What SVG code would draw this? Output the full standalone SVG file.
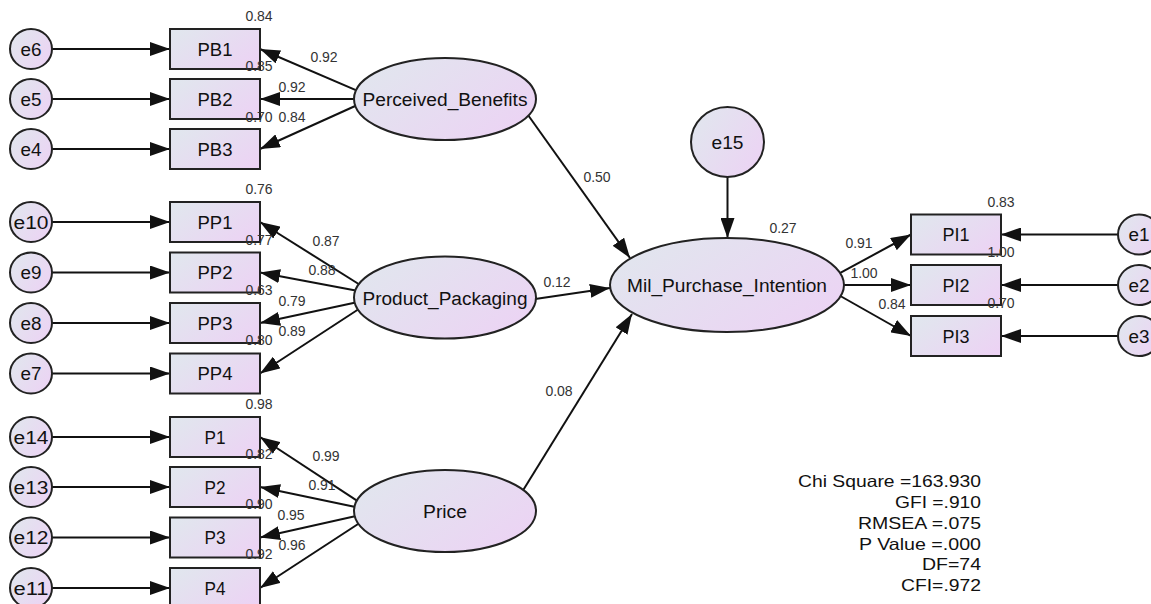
<svg xmlns="http://www.w3.org/2000/svg" width="1151" height="604" viewBox="0 0 1151 604">
<style>
.n{fill:url(#g);stroke:#222;stroke-width:2}
.lbl{font-family:"Liberation Sans",Arial,sans-serif;font-size:18px;fill:#111;text-anchor:middle}
.num{font-family:"Liberation Sans",Arial,sans-serif;font-size:14px;fill:#333;text-anchor:middle}
.st{font-family:"Liberation Sans",Arial,sans-serif;font-size:16.5px;fill:#111;text-anchor:end}
#connectors line{stroke:#111;stroke-width:2;marker-end:url(#a)}
</style>
<defs>
<linearGradient id="g" x1="0" y1="0.2" x2="1" y2="0.8">
<stop offset="0" stop-color="#e1e6ee"/>
<stop offset="1" stop-color="#ecd3f4"/>
</linearGradient>
<marker id="a" markerWidth="20" markerHeight="14" refX="20" refY="7" orient="auto" markerUnits="userSpaceOnUse">
<path d="M0,0 L20,7 L0,14 z" fill="#111"/>
</marker>
</defs>
<rect width="1151" height="604" fill="#fff"/>
<g id="connectors">
<line x1="45" y1="49" x2="170" y2="49"/>
<line x1="45" y1="99" x2="170" y2="99"/>
<line x1="45" y1="149" x2="170" y2="149"/>
<line x1="45" y1="222" x2="170" y2="222"/>
<line x1="45" y1="272.5" x2="170" y2="272.5"/>
<line x1="45" y1="323" x2="170" y2="323"/>
<line x1="45" y1="373.5" x2="170" y2="373.5"/>
<line x1="45" y1="437" x2="170" y2="437"/>
<line x1="45" y1="487" x2="170" y2="487"/>
<line x1="45" y1="537.5" x2="170" y2="537.5"/>
<line x1="45" y1="588" x2="170" y2="588"/>
<line x1="364" y1="93.7" x2="260" y2="49"/>
<line x1="366" y1="99" x2="260" y2="99"/>
<line x1="364" y1="102" x2="260" y2="149"/>
<line x1="365" y1="288" x2="260" y2="222"/>
<line x1="365" y1="292.3" x2="260" y2="272.5"/>
<line x1="365" y1="300.4" x2="260" y2="323"/>
<line x1="365" y1="305" x2="260" y2="373.5"/>
<line x1="363" y1="504.6" x2="260" y2="437"/>
<line x1="365" y1="509" x2="260" y2="487"/>
<line x1="365" y1="514" x2="260" y2="537.5"/>
<line x1="365" y1="519.5" x2="260" y2="588"/>
<line x1="523" y1="108" x2="630" y2="258"/>
<line x1="525" y1="300.4" x2="610" y2="288"/>
<line x1="518" y1="498.5" x2="632" y2="314"/>
<line x1="727.5" y1="170" x2="727.5" y2="238"/>
<line x1="831.5" y1="277.7" x2="911" y2="234.5"/>
<line x1="835" y1="285" x2="911" y2="285"/>
<line x1="831.5" y1="291" x2="911" y2="336"/>
<line x1="1125" y1="234.5" x2="1001" y2="234.5"/>
<line x1="1125" y1="285" x2="1001" y2="285"/>
<line x1="1125" y1="336" x2="1001" y2="336"/>
</g>
<g id="e6"><ellipse class="n" cx="31" cy="49" rx="21" ry="20"/><text class="lbl" x="31" y="55.5" textLength="21" lengthAdjust="spacingAndGlyphs">e6</text></g>
<g id="e5"><ellipse class="n" cx="31" cy="99" rx="21" ry="20"/><text class="lbl" x="31" y="105.5" textLength="21" lengthAdjust="spacingAndGlyphs">e5</text></g>
<g id="e4"><ellipse class="n" cx="31" cy="149" rx="21" ry="20"/><text class="lbl" x="31" y="155.5" textLength="21" lengthAdjust="spacingAndGlyphs">e4</text></g>
<g id="e10"><ellipse class="n" cx="31" cy="222" rx="21" ry="20"/><text class="lbl" x="31" y="228.5" textLength="35" lengthAdjust="spacingAndGlyphs">e10</text></g>
<g id="e9"><ellipse class="n" cx="31" cy="272.5" rx="21" ry="20"/><text class="lbl" x="31" y="279" textLength="21" lengthAdjust="spacingAndGlyphs">e9</text></g>
<g id="e8"><ellipse class="n" cx="31" cy="323" rx="21" ry="20"/><text class="lbl" x="31" y="329.5" textLength="21" lengthAdjust="spacingAndGlyphs">e8</text></g>
<g id="e7"><ellipse class="n" cx="31" cy="373.5" rx="21" ry="20"/><text class="lbl" x="31" y="380" textLength="21" lengthAdjust="spacingAndGlyphs">e7</text></g>
<g id="e14"><ellipse class="n" cx="31" cy="437" rx="21" ry="20"/><text class="lbl" x="31" y="443.5" textLength="35" lengthAdjust="spacingAndGlyphs">e14</text></g>
<g id="e13"><ellipse class="n" cx="31" cy="487" rx="21" ry="20"/><text class="lbl" x="31" y="493.5" textLength="35" lengthAdjust="spacingAndGlyphs">e13</text></g>
<g id="e12"><ellipse class="n" cx="31" cy="537.5" rx="21" ry="20"/><text class="lbl" x="31" y="544" textLength="35" lengthAdjust="spacingAndGlyphs">e12</text></g>
<g id="e11"><ellipse class="n" cx="31" cy="588" rx="21" ry="20"/><text class="lbl" x="31" y="594.5" textLength="35" lengthAdjust="spacingAndGlyphs">e11</text></g>
<g id="PB1"><rect class="n" x="170" y="29" width="90" height="40"/><text class="lbl" x="215" y="55.5" textLength="35" lengthAdjust="spacingAndGlyphs">PB1</text></g>
<g id="PB2"><rect class="n" x="170" y="79" width="90" height="40"/><text class="lbl" x="215" y="105.5" textLength="35" lengthAdjust="spacingAndGlyphs">PB2</text></g>
<g id="PB3"><rect class="n" x="170" y="129" width="90" height="40"/><text class="lbl" x="215" y="155.5" textLength="35" lengthAdjust="spacingAndGlyphs">PB3</text></g>
<g id="PP1"><rect class="n" x="170" y="202" width="90" height="40"/><text class="lbl" x="215" y="228.5" textLength="35" lengthAdjust="spacingAndGlyphs">PP1</text></g>
<g id="PP2"><rect class="n" x="170" y="252.5" width="90" height="40"/><text class="lbl" x="215" y="279" textLength="35" lengthAdjust="spacingAndGlyphs">PP2</text></g>
<g id="PP3"><rect class="n" x="170" y="303" width="90" height="40"/><text class="lbl" x="215" y="329.5" textLength="35" lengthAdjust="spacingAndGlyphs">PP3</text></g>
<g id="PP4"><rect class="n" x="170" y="353.5" width="90" height="40"/><text class="lbl" x="215" y="380" textLength="35" lengthAdjust="spacingAndGlyphs">PP4</text></g>
<g id="P1"><rect class="n" x="170" y="417" width="90" height="40"/><text class="lbl" x="215" y="443.5" textLength="21" lengthAdjust="spacingAndGlyphs">P1</text></g>
<g id="P2"><rect class="n" x="170" y="467" width="90" height="40"/><text class="lbl" x="215" y="493.5" textLength="21" lengthAdjust="spacingAndGlyphs">P2</text></g>
<g id="P3"><rect class="n" x="170" y="517.5" width="90" height="40"/><text class="lbl" x="215" y="544" textLength="21" lengthAdjust="spacingAndGlyphs">P3</text></g>
<g id="P4"><rect class="n" x="170" y="568" width="90" height="40"/><text class="lbl" x="215" y="594.5" textLength="21" lengthAdjust="spacingAndGlyphs">P4</text></g>
<g id="Perceived_Benefits"><ellipse class="n" cx="445" cy="99" rx="91" ry="41"/><text class="lbl" x="445" y="105.5" textLength="165" lengthAdjust="spacingAndGlyphs">Perceived_Benefits</text></g>
<g id="Product_Packaging"><ellipse class="n" cx="445" cy="297.5" rx="91" ry="41"/><text class="lbl" x="445" y="304.5" textLength="165" lengthAdjust="spacingAndGlyphs">Product_Packaging</text></g>
<g id="Price"><ellipse class="n" cx="445" cy="511" rx="91" ry="41"/><text class="lbl" x="445" y="518" textLength="44" lengthAdjust="spacingAndGlyphs">Price</text></g>
<g id="e15"><ellipse class="n" cx="727.5" cy="142" rx="36.5" ry="35"/><text class="lbl" x="727.5" y="148.5" textLength="32" lengthAdjust="spacingAndGlyphs">e15</text></g>
<g id="Mil_Purchase_Intention"><ellipse class="n" cx="727" cy="285" rx="117" ry="47"/><text class="lbl" x="727" y="291.5" textLength="200" lengthAdjust="spacingAndGlyphs">Mil_Purchase_Intention</text></g>
<g id="PI1"><rect class="n" x="911" y="214.5" width="90" height="40"/><text class="lbl" x="956" y="241" textLength="27" lengthAdjust="spacingAndGlyphs">PI1</text></g>
<g id="PI2"><rect class="n" x="911" y="265" width="90" height="40"/><text class="lbl" x="956" y="291.5" textLength="27" lengthAdjust="spacingAndGlyphs">PI2</text></g>
<g id="PI3"><rect class="n" x="911" y="316" width="90" height="40"/><text class="lbl" x="956" y="342.5" textLength="27" lengthAdjust="spacingAndGlyphs">PI3</text></g>
<g id="e1"><ellipse class="n" cx="1139" cy="234.5" rx="21" ry="20"/><text class="lbl" x="1139" y="241" textLength="21" lengthAdjust="spacingAndGlyphs">e1</text></g>
<g id="e2"><ellipse class="n" cx="1139" cy="285" rx="21" ry="20"/><text class="lbl" x="1139" y="291.5" textLength="21" lengthAdjust="spacingAndGlyphs">e2</text></g>
<g id="e3"><ellipse class="n" cx="1139" cy="336" rx="21" ry="20"/><text class="lbl" x="1139" y="342.5" textLength="21" lengthAdjust="spacingAndGlyphs">e3</text></g>
<g id="estimates">
<text class="num" x="259" y="20.7">0.84</text>
<text class="num" x="259" y="70.7">0.85</text>
<text class="num" x="259" y="121.7">0.70</text>
<text class="num" x="259" y="194">0.76</text>
<text class="num" x="259" y="245">0.77</text>
<text class="num" x="259" y="295">0.63</text>
<text class="num" x="259" y="345">0.80</text>
<text class="num" x="259" y="409">0.98</text>
<text class="num" x="259" y="459">0.82</text>
<text class="num" x="259" y="509">0.90</text>
<text class="num" x="259" y="559">0.92</text>
<text class="num" x="1001" y="206.7">0.83</text>
<text class="num" x="1001" y="257">1.00</text>
<text class="num" x="1001" y="308">0.70</text>
<text class="num" x="783" y="233">0.27</text>
<text class="num" x="324" y="62">0.92</text>
<text class="num" x="292" y="92">0.92</text>
<text class="num" x="292" y="122">0.84</text>
<text class="num" x="326" y="246">0.87</text>
<text class="num" x="322" y="275">0.88</text>
<text class="num" x="292" y="306">0.79</text>
<text class="num" x="292" y="336">0.89</text>
<text class="num" x="326" y="461">0.99</text>
<text class="num" x="322" y="490">0.91</text>
<text class="num" x="291" y="520">0.95</text>
<text class="num" x="292" y="550">0.96</text>
<text class="num" x="597" y="182">0.50</text>
<text class="num" x="557" y="287">0.12</text>
<text class="num" x="559" y="396">0.08</text>
<text class="num" x="859" y="248">0.91</text>
<text class="num" x="864" y="278">1.00</text>
<text class="num" x="892" y="309">0.84</text>
</g>
<g id="fit">
<text class="st" x="981" y="487" textLength="183" lengthAdjust="spacingAndGlyphs">Chi Square =163.930</text>
<text class="st" x="981" y="508" textLength="86" lengthAdjust="spacingAndGlyphs">GFI =.910</text>
<text class="st" x="981" y="529" textLength="123" lengthAdjust="spacingAndGlyphs">RMSEA =.075</text>
<text class="st" x="981" y="549.5" textLength="122" lengthAdjust="spacingAndGlyphs">P Value =.000</text>
<text class="st" x="981" y="570" textLength="59" lengthAdjust="spacingAndGlyphs">DF=74</text>
<text class="st" x="981" y="591" textLength="80" lengthAdjust="spacingAndGlyphs">CFI=.972</text>
</g>
</svg>
